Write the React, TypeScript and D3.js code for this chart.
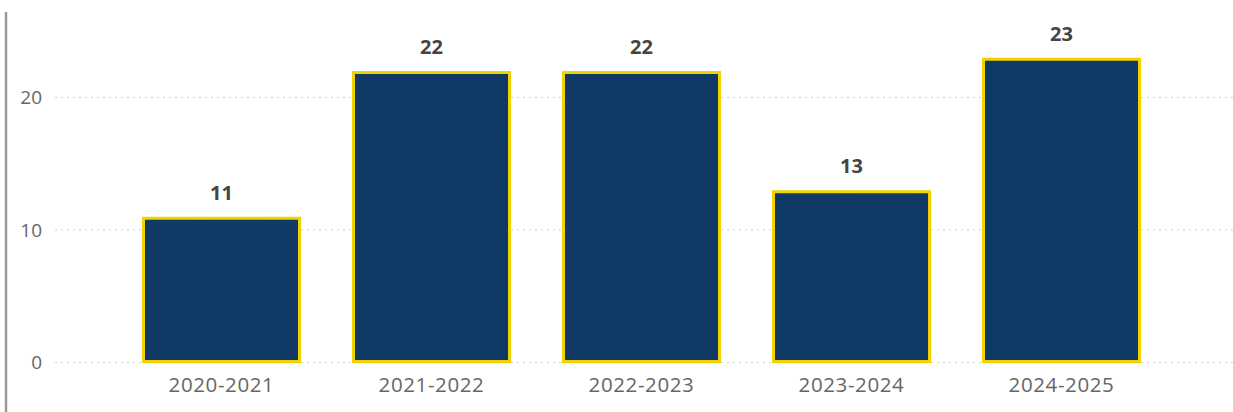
import React from "react";
import * as d3 from "d3";

const categories = ["2020-2021", "2021-2022", "2022-2023", "2023-2024", "2024-2025"];
const values = [11, 22, 22, 13, 23];
const yTicks = [0, 10, 20];

export default function App() {
  const W = 1233, H = 412;
  const x = d3.scaleBand<string>().domain(categories).range([116.5, 1166.5]).paddingInner(0.2429).paddingOuter(0.1214);
  const y = d3.scaleLinear().domain([0, 10]).range([362.5, 230]);
  const font = "'Open Sans', 'Segoe UI', sans-serif";
  return (
    <svg width={W} height={H} style={{ position: "absolute", left: 0, top: 0, background: "#fff" }}>
      <defs>
        <pattern id="tex" width="9" height="7" patternUnits="userSpaceOnUse">
          <rect width="9" height="7" fill="#0f3a66" />
          <circle cx="2" cy="2" r="0.7" fill="#0a2f58" />
        </pattern>
      </defs>
      <line x1={6} x2={6} y1={12} y2={H} stroke="#9a9a9a" strokeWidth={2.5} />
      {yTicks.map((t) => (
        <g key={t}>
          <line x1={55} x2={W} y1={y(t)} y2={y(t)} stroke="#cfcfcf" strokeWidth={1} strokeDasharray="2,4" />
          <text x={42} y={y(t)} dy="0.35em" textAnchor="end" fontSize={19} fill="#666" fontFamily={font}>{t}</text>
        </g>
      ))}
      {categories.map((c, i) => {
        const x0 = x(c)! + 1.5;
        const w = x.bandwidth() - 3;
        const yt = y(values[i]) + 1.5;
        return (
          <g key={c}>
            <rect x={x0} y={yt} width={w} height={y(0) - yt - 1} fill="url(#tex)" stroke="#f2d200" strokeWidth={3} />
            <text x={x(c)! + x.bandwidth() / 2} y={y(values[i]) - 17} textAnchor="middle" fontSize={20} fontWeight="bold" fill="#444" fontFamily={font}>{values[i]}</text>
            <text x={x(c)! + x.bandwidth() / 2} y={392} textAnchor="middle" fontSize={20.5} letterSpacing={0.6} fill="#666" fontFamily={font}>{c}</text>
          </g>
        );
      })}
    </svg>
  );
}
